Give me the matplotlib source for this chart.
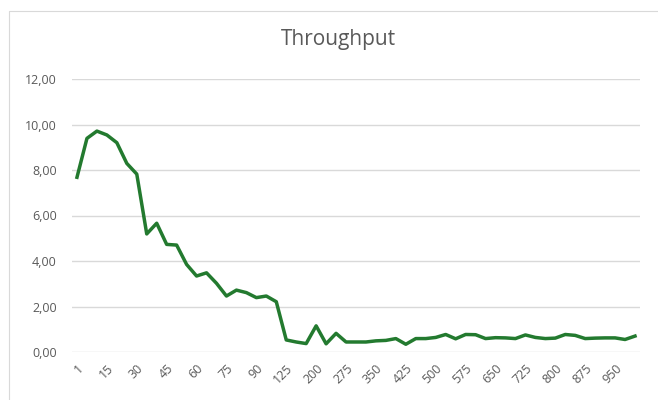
import numpy as np
import matplotlib; matplotlib.use("Agg")
import matplotlib.pyplot as plt
from matplotlib.lines import Line2D
from matplotlib.ticker import FuncFormatter

# categories (x axis) and throughput values
CATEGORIES = [1, 5, 10, 15, 20, 25, 30, 35, 40, 45, 50, 55, 60, 65, 70, 75, 80, 85, 90, 95, 100,
              125, 150, 175, 200, 225, 250, 275, 300, 325, 350, 375, 400, 425, 450, 475, 500,
              525, 550, 575, 600, 625, 650, 675, 700, 725, 750, 775, 800, 825, 850, 875, 900,
              925, 950, 975, 1000]
THROUGHPUT = [7.68, 9.39, 9.71, 9.54, 9.20, 8.29, 7.82, 5.19, 5.66, 4.73, 4.70, 3.85, 3.34, 3.48,
              3.02, 2.46, 2.72, 2.61, 2.39, 2.46, 2.21, 0.53, 0.44, 0.37, 1.15, 0.36, 0.82, 0.44,
              0.44, 0.44, 0.49, 0.51, 0.59, 0.34, 0.59, 0.59, 0.64, 0.77, 0.58, 0.77, 0.76, 0.59,
              0.63, 0.62, 0.59, 0.75, 0.64, 0.59, 0.61, 0.77, 0.73, 0.59, 0.61, 0.62, 0.62, 0.55,
              0.70]
LABEL_EVERY = 3

plt.rcParams["font.family"] = ["Open Sans", "DejaVu Sans"]
TXT = "#595959"
GRID = "#d9d9d9"

fig = plt.figure(figsize=(6.58, 4.0), dpi=100)
# chart frame: only the left and top edges are visible in the crop
bx, by = 8.5 / 658, 1 - 10.5 / 400
fig.lines.append(Line2D([bx, bx, 1.0], [0.0, by, by], transform=fig.transFigure,
                        color=GRID, lw=0.8))
ax = fig.add_axes([72 / 658, 1 - 352 / 400, 568 / 658, 273 / 400])

x = np.arange(len(CATEGORIES))
ax.plot(x, THROUGHPUT, color="#237a2f", lw=2.5, solid_joinstyle="round")

ax.set_xlim(-0.5, len(CATEGORIES) - 0.5)
ax.set_ylim(0, 12)
ax.set_yticks(np.arange(0, 13, 2))
ax.yaxis.set_major_formatter(FuncFormatter(lambda v, _: f"{v:.2f}".replace(".", ",")))
ax.set_xticks(x[::LABEL_EVERY])
ax.set_xticklabels([str(c) for c in CATEGORIES[::LABEL_EVERY]], rotation=45, ha="right",
                   rotation_mode="anchor")
ax.tick_params(axis="both", length=0, colors=TXT, labelsize=9)
ax.tick_params(axis="y", pad=11)
ax.tick_params(axis="x", pad=7)
ax.grid(axis="y", color=GRID, lw=1)
ax.set_axisbelow(True)
for s in ax.spines.values():
    s.set_visible(False)

fig.text(338 / 658, 1 - 40 / 400, "Throughput", ha="center", va="center", color=TXT, fontsize=15)
fig.savefig("out.png", dpi=100)
